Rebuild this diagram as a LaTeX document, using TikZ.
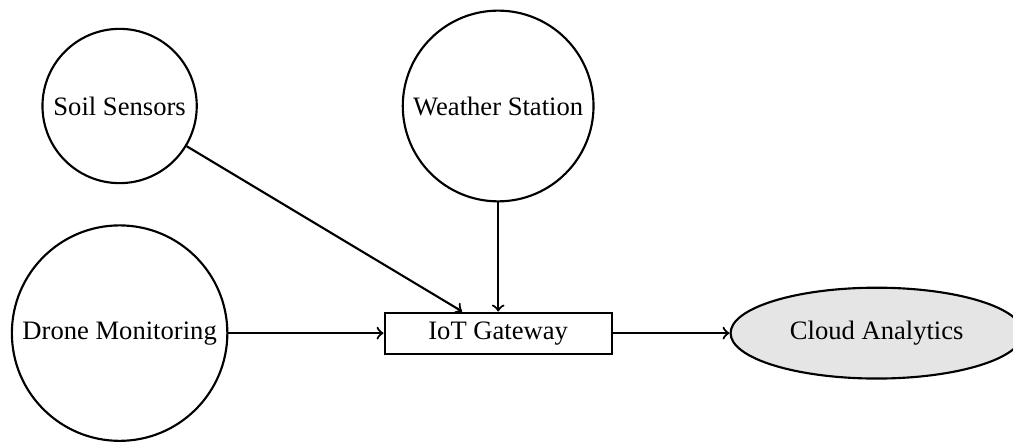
\documentclass[tikz,border=0pt]{standalone}
\usepackage{fontspec}
\setmainfont{Liberation Serif}
\usepackage{tikz}
\usetikzlibrary{matrix,arrows,shapes.geometric}

\begin{document}
\begin{tikzpicture}[thick,
  sensor/.style={circle, draw},
  gateway/.style={rectangle, draw, minimum width=3cm},
  cloud/.style={ellipse, draw, fill=gray!20, minimum width=3.86cm, minimum height=1.2cm}]
  \matrix (m) [matrix of nodes, nodes={anchor=center}, row sep={3cm,between origins}, column sep={5cm,between origins}]
  {
|[sensor]| Soil Sensors & |[sensor]| Weather Station & \\
|[sensor]| Drone Monitoring & |[gateway]| IoT Gateway & |[cloud]| Cloud Analytics \\
};
  \pgfresetboundingbox
  \useasboundingbox ([shift={(-6.58,-1.43)}]m-2-2.center) rectangle ([shift={(6.80,4.40)}]m-2-2.center);
  \path[->]
  (m-1-1) edge (m-2-2)
  (m-1-2) edge (m-2-2)
  (m-2-1) edge (m-2-2)
  (m-2-2) edge (m-2-3)
  ;
\end{tikzpicture}
\end{document}
